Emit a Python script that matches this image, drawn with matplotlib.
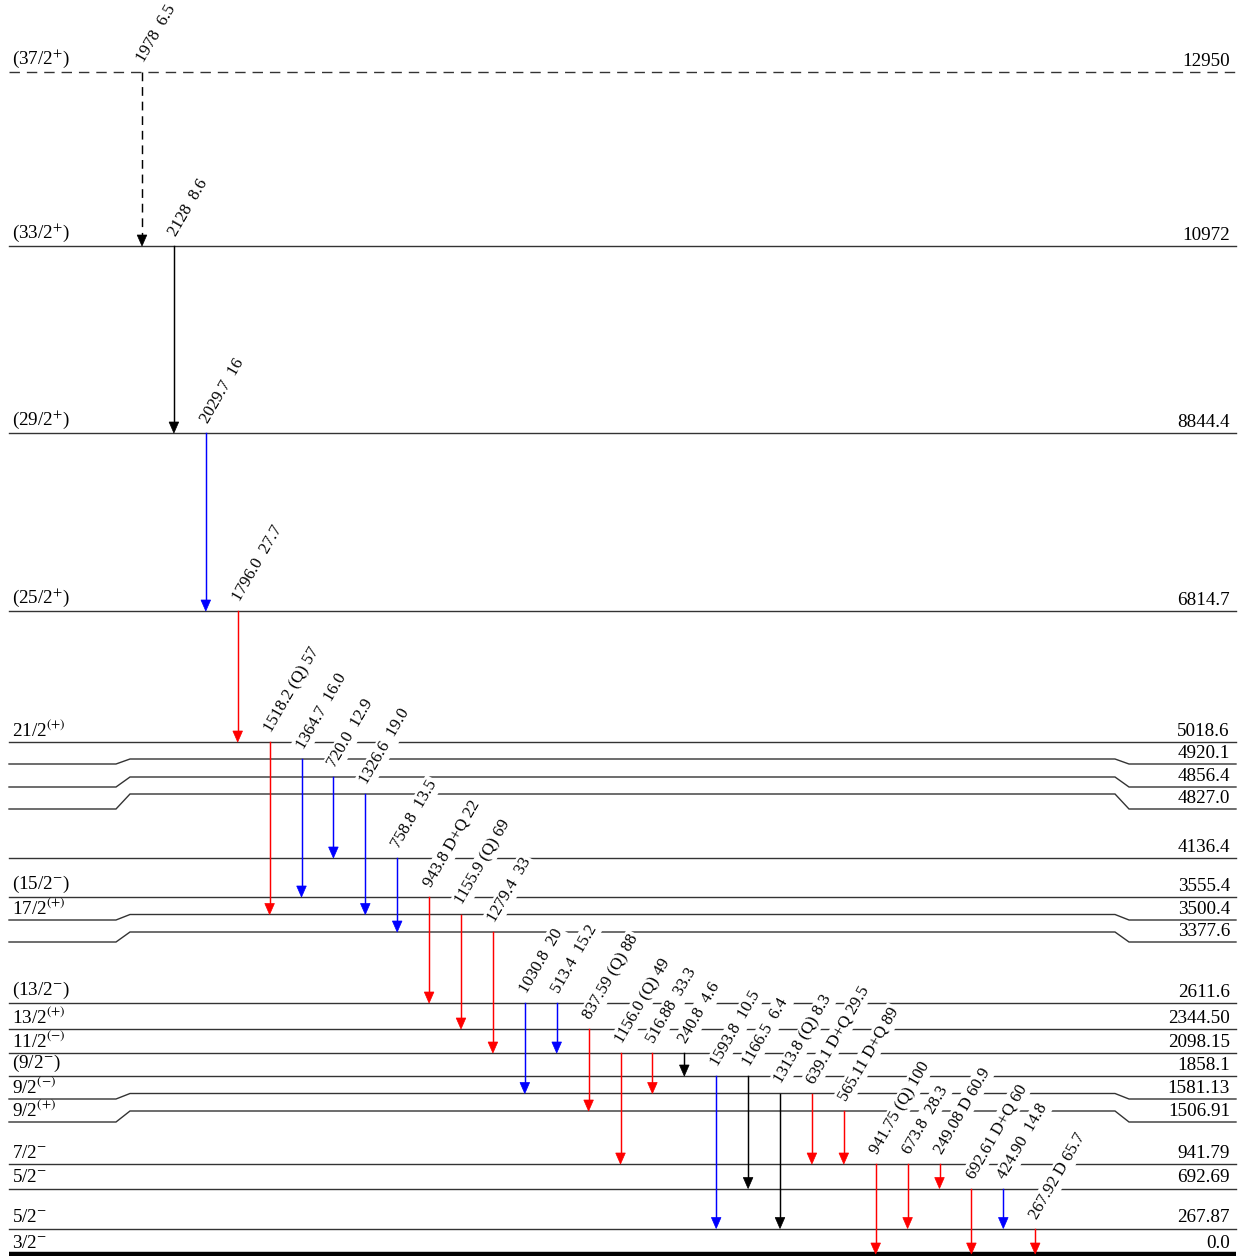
import matplotlib
matplotlib.use("Agg")
import matplotlib.pyplot as plt
from matplotlib.patches import Polygon

plt.rcParams['font.family'] = ['Liberation Serif', 'DejaVu Serif']
plt.rcParams['mathtext.fontset'] = 'stix'

# ---------------- level data ----------------
level_energy = ["12950", "10972", "8844.4", "6814.7", "5018.6", "4920.1", "4856.4",
                "4827.0", "4136.4", "3555.4", "3500.4", "3377.6", "2611.6", "2344.50",
                "2098.15", "1858.1", "1581.13", "1506.91", "941.79", "692.69",
                "267.87", "0.0"]
level_spin = [r"(37/2$^{+}$)", r"(33/2$^{+}$)", r"(29/2$^{+}$)", r"(25/2$^{+}$)",
              r"21/2$^{(+)}$", "", "", "", "", r"(15/2$^{-}$)", r"17/2$^{(+)}$", "",
              r"(13/2$^{-}$)", r"13/2$^{(+)}$", r"11/2$^{(-)}$", r"(9/2$^{-}$)",
              r"9/2$^{(-)}$", r"9/2$^{(+)}$", r"7/2$^{-}$", r"5/2$^{-}$", r"5/2$^{-}$",
              r"3/2$^{-}$"]
level_tentative = ["12950"]

# ---------------- gamma-ray data ----------------
gamma_energy = ["1978", "2128", "2029.7", "1796.0", "1518.2", "1364.7", "720.0", "1326.6",
                "758.8", "943.8", "1155.9", "1279.4", "1030.8", "513.4", "837.59", "1156.0",
                "516.88", "240.8", "1593.8", "1166.5", "1313.8", "639.1", "565.11",
                "941.75", "673.8", "249.08", "692.61", "424.90", "267.92"]
gamma_mult = ["", "", "", "", "(Q)", "", "", "", "", "D+Q", "(Q)", "", "", "", "(Q)", "(Q)",
              "", "", "", "", "(Q)", "D+Q", "D+Q", "(Q)", "", "D", "D+Q", "", "D"]
gamma_intensity = ["6.5", "8.6", "16", "27.7", "57", "16.0", "12.9", "19.0", "13.5", "22",
                   "69", "33", "20", "15.2", "88", "49", "33.3", "4.6", "10.5", "6.4", "8.3",
                   "29.5", "89", "100", "28.3", "60.9", "60", "14.8", "65.7"]
gamma_from = ["12950", "10972", "8844.4", "6814.7", "5018.6", "4920.1", "4856.4", "4827.0",
              "4136.4", "3555.4", "3500.4", "3377.6", "2611.6", "2611.6", "2344.50",
              "2098.15", "2098.15", "2098.15", "1858.1", "1858.1", "1581.13", "1581.13",
              "1506.91", "941.79", "941.79", "941.79", "692.69", "692.69", "267.87"]
gamma_to = ["10972", "8844.4", "6814.7", "5018.6", "3500.4", "3555.4", "4136.4", "3500.4",
            "3377.6", "2611.6", "2344.50", "2098.15", "1581.13", "2098.15", "1506.91",
            "941.79", "1581.13", "1858.1", "267.87", "692.69", "267.87", "941.79",
            "941.79", "0.0", "267.87", "692.69", "0.0", "267.87", "0.0"]
gamma_tentative = ["1978"]

# ---------------- styling ----------------
gamma_color = ["black", "black", "blue", "red", "red", "blue", "blue", "blue", "blue",
               "red", "red", "red", "blue", "blue", "red", "red", "red", "black", "blue",
               "black", "black", "red", "red", "red", "red", "red", "red", "blue", "red"]

# Vertical drawing layout of the scheme (drawing units, downward):
# row where transitions attach, and row of the outer (labelled) ends.
layout_row = [72, 246, 433, 611, 742, 759, 777, 794, 858, 897, 914.5, 932, 1003, 1029,
              1053, 1076, 1093.5, 1111, 1164, 1188.5, 1228.5, 1254]
layout_row_side = [72, 246, 433, 611, 742, 764, 787, 809, 858, 897, 920, 942, 1003, 1029,
                   1053, 1076, 1099, 1122, 1164, 1188.5, 1228.5, 1254]

W, H = 1245, 1256
X_LEFT, X_RIGHT = 9, 1236
BEND_L = (116, 130)
BEND_R = (1115, 1129)
GAMMA_X0, GAMMA_PITCH = 142, 31.9
FS_LEVEL = 13.8
FS_GAMMA = 12.2

fig = plt.figure(figsize=(W / 100, H / 100), dpi=100)
ax = fig.add_axes([0, 0, 1, 1])
ax.set_xlim(0, W)
ax.set_ylim(H, 0)
ax.axis('off')

row_of = dict(zip(level_energy, layout_row))

# ---------------- levels ----------------
for e, spin, y, ys in zip(level_energy, level_spin, layout_row, layout_row_side):
    if e == "0.0":
        ax.plot([X_LEFT, X_RIGHT], [y, y], color='black', lw=3.2,
                solid_capstyle='butt', zorder=1)
    elif e in level_tentative:
        ax.plot([X_LEFT, X_RIGHT], [y, y], color='#333333', lw=1.0,
                dashes=(7.5, 5), zorder=1)
    else:
        xs = [X_LEFT, BEND_L[0], BEND_L[1], BEND_R[0], BEND_R[1], X_RIGHT]
        yy = [ys, ys, y, y, ys, ys]
        ax.plot(xs, yy, color='#333333', lw=1.0, zorder=1,
                solid_joinstyle='miter')
    ax.text(1230, ys - 2.0, e, ha='right', va='bottom', fontsize=FS_LEVEL, zorder=2)
    if spin:
        ax.text(12, ys - 2.0, spin, ha='left', va='bottom', fontsize=FS_LEVEL, zorder=2)

# ---------------- transitions ----------------
HEAD_W, HEAD_L = 4.8, 11
for i, (eg, mult, inten, lf, lt, c) in enumerate(
        zip(gamma_energy, gamma_mult, gamma_intensity, gamma_from, gamma_to, gamma_color)):
    x = GAMMA_X0 + i * GAMMA_PITCH
    y0, y1 = row_of[lf], row_of[lt]
    style = dict(color=c, lw=1.05, zorder=4)
    if eg in gamma_tentative:
        ax.plot([x, x], [y0, y1 - HEAD_L], dashes=(6, 4), **style)
    else:
        ax.plot([x, x], [y0, y1 - HEAD_L], **style)
    ax.add_patch(Polygon([(x - HEAD_W, y1 - HEAD_L), (x + HEAD_W, y1 - HEAD_L), (x, y1)],
                         closed=True, facecolor=c, edgecolor=c, lw=0.5, zorder=5))
    label = f"{eg} {mult} {inten}" if mult else f"{eg}  {inten}"
    ax.text(x + 2, y0 - 9, label, rotation=60, rotation_mode='anchor',
            ha='left', va='baseline', fontsize=FS_GAMMA, zorder=3,
            bbox=dict(boxstyle='square,pad=0.12', fc='white', ec='none'))

fig.savefig("out.png", dpi=100)
